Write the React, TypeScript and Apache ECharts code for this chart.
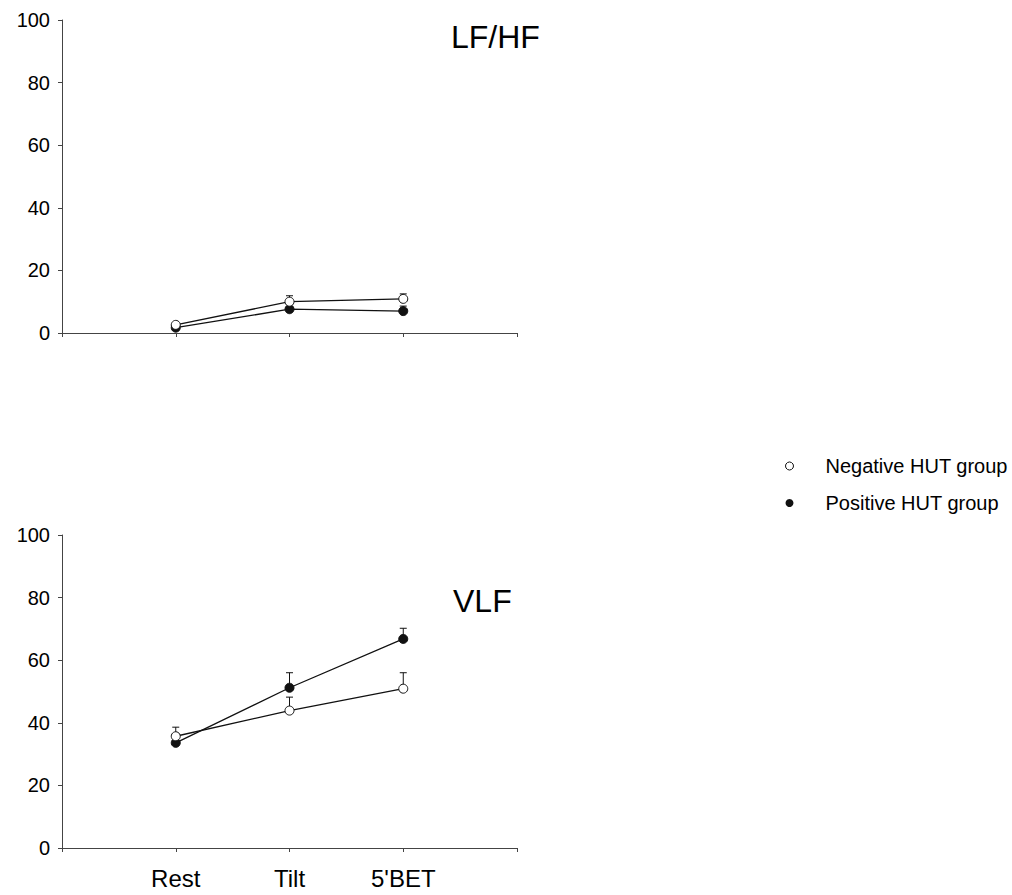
import React, { useEffect, useRef } from "react";
import * as echarts from "echarts";

const categories = ["Rest", "Tilt", "5'BET"];
const yTicks = [0, 20, 40, 60, 80, 100];

// LF/HF panel
const lfhfNegative = [2.6, 10.0, 10.9];
const lfhfNegativeUpper = [2.6, 11.9, 12.5];
const lfhfPositive = [1.7, 7.6, 7.0];
const lfhfPositiveUpper = [1.7, 7.6, 8.6];

// VLF panel
const vlfNegative = [35.7, 43.9, 50.9];
const vlfNegativeUpper = [38.6, 48.2, 56.0];
const vlfPositive = [33.6, 51.2, 66.8];
const vlfPositiveUpper = [33.6, 56.0, 70.2];

const NEG = "Negative HUT group";
const POS = "Positive HUT group";
const FONT = "'Liberation Sans', Arial, sans-serif";

function pts(vals: number[]) {
  return vals.map((v, i) => [i + 1, v]);
}
function errPts(vals: number[], upper: number[]) {
  return vals.map((v, i) => [i + 1, v, upper[i]]);
}

const errRender = (params: any, api: any) => {
  const x = api.value(0);
  const m = api.value(1);
  const u = api.value(2);
  if (u <= m) return { type: "group", children: [] };
  const p0 = api.coord([x, m]);
  const p1 = api.coord([x, u]);
  const style = { stroke: "#111", lineWidth: 1 };
  return {
    type: "group",
    children: [
      { type: "line", shape: { x1: p0[0], y1: p0[1], x2: p1[0], y2: p1[1] }, style },
      { type: "line", shape: { x1: p1[0] - 3.5, y1: p1[1], x2: p1[0] + 3.5, y2: p1[1] }, style },
    ],
  };
};

export default function App() {
  const ref = useRef<HTMLDivElement>(null);
  useEffect(() => {
    document.body.style.margin = "0";
    const chart = echarts.init(ref.current!, null, { renderer: "svg" });
    const axisLine = { show: true, lineStyle: { color: "#444", width: 1 } };
    const xAxisBase = (gi: number, showLabel: boolean) => ({
      type: "value",
      gridIndex: gi,
      min: 0,
      max: 4,
      interval: 1,
      axisLine,
      axisTick: { show: true, length: 4, lineStyle: { color: "#444" } },
      splitLine: { show: false },
      axisLabel: {
        show: showLabel,
        fontSize: 24,
        fontFamily: FONT,
        color: "#000",
        margin: 18,
        formatter: (v: number) => categories[v - 1] ?? "",
      },
    });
    const yAxisBase = (gi: number) => ({
      type: "value",
      gridIndex: gi,
      min: yTicks[0],
      max: yTicks[yTicks.length - 1],
      interval: 20,
      axisLine,
      axisTick: { show: true, length: 4, lineStyle: { color: "#444" } },
      splitLine: { show: false },
      axisLabel: { fontSize: 20, fontFamily: FONT, color: "#000", margin: 12 },
    });
    const lineSeries = (name: string, gi: number, data: number[], open: boolean) => ({
      type: "line",
      name,
      xAxisIndex: gi,
      yAxisIndex: gi,
      data: pts(data),
      symbol: "circle",
      symbolSize: 9,
      z: open ? 4 : 3,
      lineStyle: { color: "#111", width: 1.3 },
      itemStyle: open
        ? { color: "#fff", borderColor: "#111", borderWidth: 1 }
        : { color: "#111", borderColor: "#111", borderWidth: 1 },
    });
    const errSeries = (name: string, gi: number, data: number[], upper: number[]) => ({
      type: "custom",
      name,
      xAxisIndex: gi,
      yAxisIndex: gi,
      data: errPts(data, upper),
      renderItem: errRender,
      z: 1,
      silent: true,
    });
    const titleStyle = { fontSize: 32, fontWeight: "normal", color: "#000", fontFamily: FONT };
    chart.setOption({
      animation: false,
      backgroundColor: "#fff",
      textStyle: { fontFamily: FONT },
      title: [
        { text: "LF/HF", left: 446, top: 16, textStyle: titleStyle },
        { text: "VLF", left: 448, top: 580, textStyle: titleStyle },
      ],
      legend: {
        orient: "vertical",
        left: 780,
        top: 450,
        itemWidth: 62,
        itemHeight: 8,
        itemGap: 15,
        textStyle: { fontSize: 20, lineHeight: 22, color: "#000", fontFamily: FONT },
        data: [
          { name: NEG, icon: "circle", itemStyle: { color: "#fff", borderColor: "#111", borderWidth: 1 } },
          { name: POS, icon: "circle", itemStyle: { color: "#111", borderColor: "#111", borderWidth: 0 } },
        ],
      },
      grid: [
        { left: 62, right: 495, top: 20, height: 313 },
        { left: 62, right: 495, top: 535, height: 313 },
      ],
      xAxis: [xAxisBase(0, false), xAxisBase(1, true)],
      yAxis: [yAxisBase(0), yAxisBase(1)],
      series: [
        errSeries(NEG, 0, lfhfNegative, lfhfNegativeUpper),
        errSeries(POS, 0, lfhfPositive, lfhfPositiveUpper),
        lineSeries(POS, 0, lfhfPositive, false),
        lineSeries(NEG, 0, lfhfNegative, true),
        errSeries(NEG, 1, vlfNegative, vlfNegativeUpper),
        errSeries(POS, 1, vlfPositive, vlfPositiveUpper),
        lineSeries(POS, 1, vlfPositive, false),
        lineSeries(NEG, 1, vlfNegative, true),
      ],
    });
    return () => chart.dispose();
  }, []);
  return <div ref={ref} style={{ width: 1012, height: 895 }} />;
}
